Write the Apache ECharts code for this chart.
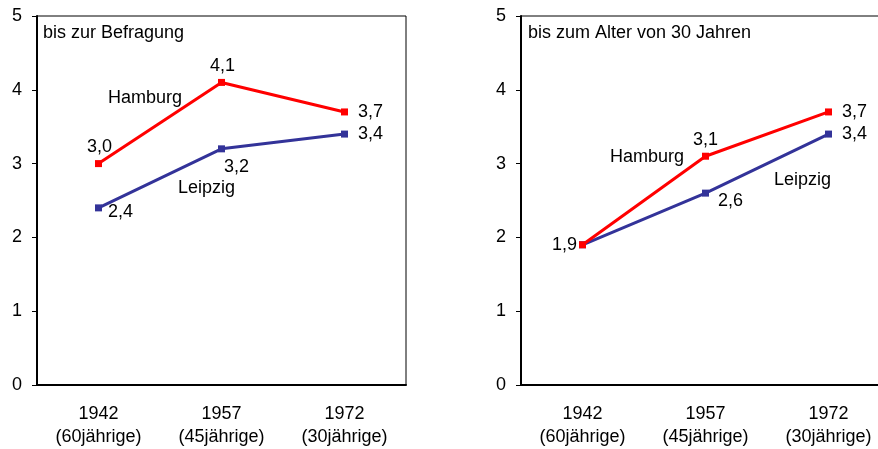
<!DOCTYPE html>
<html>
<head>
<meta charset="utf-8">
<script src="https://cdn.jsdelivr.net/npm/echarts@6/dist/echarts.min.js"></script>
<style>
  html, body { margin: 0; padding: 0; background: #fff; }
  #chart { width: 878px; height: 449px; }
</style>
</head>
<body>
<div id="chart"></div>
<script>
// Kategorien (Geburtsjahrgänge)
const years = ['1942\n(60jährige)', '1957\n(45jährige)', '1972\n(30jährige)']

// links: bis zur Befragung
const hamburgBefragung = [3.0, 4.1, 3.7]
const leipzigBefragung = [2.4, 3.2, 3.4]

// rechts: bis zum Alter von 30 Jahren
const hamburgAlter30 = [1.9, 3.1, 3.7]
const leipzigAlter30 = [1.9, 2.6, 3.4]

const yTicks = [0, 1, 2, 3, 4, 5]

const RED = '#ff0000'
const BLUE = '#333399'
const FONT = 'Liberation Sans, Arial, sans-serif'
const FS = 18

// Label-Platzierung je Punkt (wie im Original)
function withLabels(values, places) {
  return values.map((v, i) => {
    const p = places[i]
    if (!p) return { value: v, label: { show: false } }
    return {
      value: v,
      label: { show: true, position: p[0], distance: p[1], offset: p[2] || [0, 0] },
    }
  })
}

function fmt(p) {
  return String(p.value.toFixed(1)).replace('.', ',')
}

function lineSeries(name, color, xi, data, z) {
  return {
    name,
    type: 'line',
    xAxisIndex: xi,
    yAxisIndex: xi,
    data,
    z,
    symbol: 'rect',
    symbolSize: 7,
    lineStyle: { color, width: 3 },
    itemStyle: { color },
    label: { show: true, color: '#000', fontSize: FS, fontFamily: FONT, formatter: fmt },
    emphasis: { disabled: true },
    animation: false,
  }
}

function xAxis(gi) {
  return {
    type: 'category',
    gridIndex: gi,
    data: years,
    boundaryGap: true,
    axisLine: { lineStyle: { color: '#000', width: 2 } },
    axisTick: { show: false },
    axisLabel: { color: '#000', fontSize: FS, fontFamily: FONT, margin: 18, lineHeight: 23 },
  }
}

function yAxis(gi) {
  return {
    type: 'value',
    gridIndex: gi,
    min: yTicks[0],
    max: yTicks[yTicks.length - 1],
    interval: 1,
    axisLine: { show: true, lineStyle: { color: '#000', width: 2 } },
    axisTick: { show: true, length: 5, lineStyle: { color: '#000', width: 1 } },
    axisLabel: { color: '#000', fontSize: FS, fontFamily: FONT, margin: 15 },
    splitLine: { show: false },
  }
}

function txt(x, y, s) {
  return {
    type: 'text',
    x,
    y,
    style: { text: s, fill: '#000', font: FS + 'px ' + FONT, textVerticalAlign: 'middle' },
    z: 10,
  }
}

const chart = echarts.init(document.getElementById('chart'))
chart.setOption({
  backgroundColor: '#fff',
  animation: false,
  grid: [
    { left: 37, top: 16, width: 369, height: 369, outerBoundsMode: 'none',
      show: true, borderColor: '#000', borderWidth: 1 },
    // rechtes Panel ragt über den Rand hinaus (im Original abgeschnitten)
    { left: 521, top: 16, width: 369, height: 369, outerBoundsMode: 'none',
      show: true, borderColor: '#000', borderWidth: 1 },
  ],
  xAxis: [xAxis(0), xAxis(1)],
  yAxis: [yAxis(0), yAxis(1)],
  series: [
    lineSeries('Leipzig', BLUE, 0,
      withLabels(leipzigBefragung, [['right', 6, [0, 4]], ['bottom', 4, [15, 2]], ['right', 10]]), 2),
    lineSeries('Hamburg', RED, 0,
      withLabels(hamburgBefragung, [['top', 4, [1, 0]], ['top', 4, [1, 0]], ['right', 10]]), 3),
    lineSeries('Leipzig', BLUE, 1,
      withLabels(leipzigAlter30, [null, ['right', 9, [0, 8]], ['right', 10]]), 2),
    lineSeries('Hamburg', RED, 1,
      withLabels(hamburgAlter30, [['left', 2], ['top', 4], ['right', 10]]), 3),
  ],
  graphic: [
    txt(43, 33, 'bis zur Befragung'),
    txt(108, 98, 'Hamburg'),
    txt(178, 188, 'Leipzig'),
    txt(528, 33, 'bis zum Alter von 30 Jahren'),
    txt(610, 157, 'Hamburg'),
    txt(774, 180, 'Leipzig'),
  ],
})
</script>
</body>
</html>
